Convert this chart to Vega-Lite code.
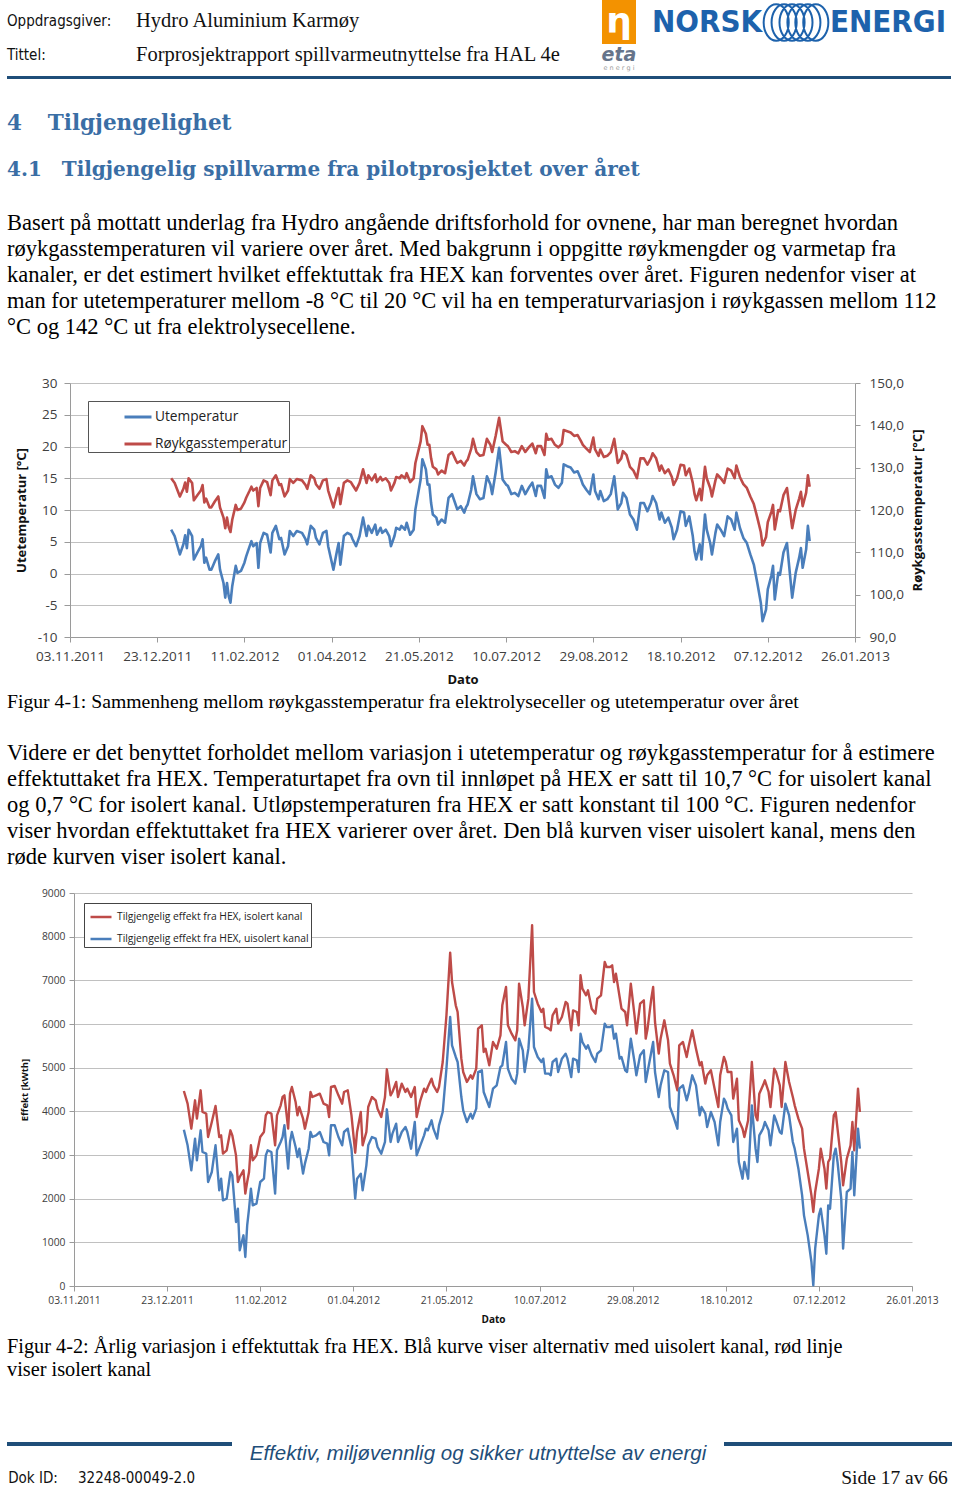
{
  "$schema": "https://vega.github.io/schema/vega-lite/v6.json",
  "padding": {"left": 7, "top": 0, "right": 0, "bottom": 0},
  "config": {
    "view": {"stroke": null},
    "font": "Open Sans",
    "axis": {"labelFont": "Open Sans", "titleFont": "Open Sans", "labelColor": "#404040", "titleColor": "#111111", "domainColor": "#9a9a9a", "tickColor": "#9a9a9a", "gridColor": "#c0c0c0"},
    "legend": {"labelFont": "Open Sans"}
  },
  "spacing": 0,
  "bounds": "flush",
  "resolve": {"scale": {"color": "independent"}, "legend": {"color": "independent"}},
  "vconcat": [
    {
      "spacing": 0,
      "bounds": "flush",
      "hconcat": [
        {
          "width": 129,
          "height": 76,
          "data": {"values": [
            {"felt": "Oppdragsgiver:", "verdi": "Hydro Aluminium Karmøy"},
            {"felt": "Tittel:", "verdi": "Forprosjektrapport spillvarmeutnyttelse fra HAL 4e"}
          ]},
          "transform": [{"fold": ["felt", "verdi"], "as": ["kolonne", "tekst"]}],
          "encoding": {
            "x": {"field": "kolonne", "type": "nominal", "axis": null, "sort": ["felt", "verdi"], "scale": {"type": "point", "padding": 0}},
            "y": {"field": "felt", "type": "nominal", "sort": null, "axis": null, "scale": {"type": "point", "padding": 0.586}},
            "text": {"field": "tekst"}
          },
          "layer": [
            {"transform": [{"filter": "datum.kolonne === 'felt'"}], "mark": {"type": "text", "align": "left", "font": "Liberation Sans Narrow, Arial Narrow, DejaVu Sans Condensed, sans-serif", "fontSize": 15, "color": "#111111"}},
            {"transform": [{"filter": "datum.kolonne === 'verdi'"}], "mark": {"type": "text", "align": "left", "font": "Liberation Serif", "fontSize": 20.5, "color": "#111111"}}
          ]
        },
        {"width": 466, "height": 10, "data": {"values": [{}]}, "mark": {"type": "rect", "opacity": 0}},
        {
          "width": 34,
          "height": 44,
          "data": {"values": [{"tegn": "η"}]},
          "title": {"text": "eta", "subtitle": "e n e r g i", "orient": "bottom", "anchor": "middle", "offset": 2, "font": "DejaVu Sans", "fontSize": 19, "fontStyle": "italic", "fontWeight": "bold", "color": "#66748a", "subtitleFont": "DejaVu Sans", "subtitleFontSize": 6.5, "subtitleColor": "#9a9a9a", "subtitlePadding": 0},
          "layer": [
            {"mark": {"type": "rect", "color": "#F39200"}},
            {"mark": {"type": "text", "color": "white", "font": "DejaVu Sans", "fontWeight": "bold", "fontSize": 36}, "encoding": {"text": {"field": "tegn"}}}
          ]
        },
        {"width": 16, "height": 10, "data": {"values": [{}]}, "mark": {"type": "rect", "opacity": 0}},
        {"width": 110, "height": 45, "data": {"values": [{"ord": "NORSK"}]}, "mark": {"type": "text", "font": "DejaVu Sans Condensed", "fontWeight": "bold", "fontSize": 31, "color": "#1d62ac"}, "encoding": {"text": {"field": "ord"}}},
        {"width": 68, "height": 45, "data": {"values": [{}]}, "mark": {"type": "point", "filled": false, "strokeWidth": 2, "color": "#1d62ac", "opacity": 1, "size": 4356, "shape": "M -0.98 0 A 0.38 0.55 0 1 0 -0.22 0 A 0.38 0.55 0 1 0 -0.98 0 M -0.74 0 A 0.38 0.55 0 1 0 0.02 0 A 0.38 0.55 0 1 0 -0.74 0 M -0.5 0 A 0.38 0.55 0 1 0 0.26 0 A 0.38 0.55 0 1 0 -0.5 0 M -0.26 0 A 0.38 0.55 0 1 0 0.5 0 A 0.38 0.55 0 1 0 -0.26 0 M -0.02 0 A 0.38 0.55 0 1 0 0.74 0 A 0.38 0.55 0 1 0 -0.02 0 M 0.22 0 A 0.38 0.55 0 1 0 0.98 0 A 0.38 0.55 0 1 0 0.22 0"}, "encoding": {}},
        {"width": 116, "height": 45, "data": {"values": [{"ord": "ENERGI"}]}, "mark": {"type": "text", "font": "DejaVu Sans Condensed", "fontWeight": "bold", "fontSize": 31, "color": "#1d62ac"}, "encoding": {"text": {"field": "ord"}}}
      ]
    },
    {"width": 10, "height": 76, "data": {"values": [{}]}, "mark": {"type": "rect", "opacity": 0}},
    {
      "width": 944,
      "height": 3,
      "data": {"values": [{}]},
      "mark": {"type": "rect", "color": "#1f4e79"},
      "title": {"text": "4\u2003\u2009Tilgjengelighet", "orient": "bottom", "anchor": "start", "frame": "group", "offset": 34, "font": "DejaVu Serif", "fontSize": 21.5, "fontWeight": "bold", "color": "#3A6EA5"}
    },
    {"width": 10, "height": 304, "data": {"values": [{}]}, "mark": {"type": "rect", "opacity": 0}},
    {
      "spacing": 0,
      "bounds": "flush",
      "resolve": {"scale": {"color": "independent"}, "legend": {"color": "independent"}},
      "hconcat": [
        {"width": 63, "height": 10, "data": {"values": [{}]}, "mark": {"type": "rect", "opacity": 0}},
        {
          "width": 785,
          "height": 254,
          "title": {
            "text": "4.1\u2003Tilgjengelig spillvarme fra pilotprosjektet over året",
            "subtitle": [
              "Basert på mottatt underlag fra Hydro angående driftsforhold for ovnene, har man beregnet hvordan",
              "røykgasstemperaturen vil variere over året. Med bakgrunn i oppgitte røykmengder og varmetap fra",
              "kanaler, er det estimert hvilket effektuttak fra HEX kan forventes over året. Figuren nedenfor viser at",
              "man for utetemperaturer mellom -8 °C til 20 °C vil ha en temperaturvariasjon i røykgassen mellom 112",
              "°C og 142 °C ut fra elektrolysecellene."
            ],
            "anchor": "start", "frame": "group", "dx": -63, "offset": 38,
            "font": "DejaVu Serif", "fontSize": 20, "fontWeight": "bold", "color": "#3A6EA5",
            "subtitleFont": "Liberation Serif", "subtitleFontSize": 22.5, "subtitleColor": "#000000", "subtitleLineHeight": 26, "subtitlePadding": 32
          },
          "data": {"values": [
            {"dato": "2011-12-31", "ute": 6.9, "royk": 127.5},
            {"dato": "2012-01-02", "ute": 5.9, "royk": 126.4},
            {"dato": "2012-01-05", "ute": 3.0, "royk": 123.2},
            {"dato": "2012-01-07", "ute": 4.6, "royk": 125.0},
            {"dato": "2012-01-08", "ute": 6.0, "royk": 126.5},
            {"dato": "2012-01-09", "ute": 4.0, "royk": 124.3},
            {"dato": "2012-01-10", "ute": 6.9, "royk": 127.5},
            {"dato": "2012-01-12", "ute": 5.9, "royk": 126.4},
            {"dato": "2012-01-13", "ute": 2.2, "royk": 122.3},
            {"dato": "2012-01-15", "ute": 3.3, "royk": 123.5},
            {"dato": "2012-01-17", "ute": 4.3, "royk": 124.6},
            {"dato": "2012-01-18", "ute": 5.4, "royk": 125.9},
            {"dato": "2012-01-19", "ute": 1.7, "royk": 121.8},
            {"dato": "2012-01-20", "ute": 2.5, "royk": 122.7},
            {"dato": "2012-01-22", "ute": 0.6, "royk": 120.6},
            {"dato": "2012-01-23", "ute": 0.6, "royk": 120.6},
            {"dato": "2012-01-25", "ute": 1.9, "royk": 122.0},
            {"dato": "2012-01-27", "ute": 3.0, "royk": 123.2},
            {"dato": "2012-01-28", "ute": 0.6, "royk": 120.6},
            {"dato": "2012-01-30", "ute": -1.5, "royk": 118.2},
            {"dato": "2012-01-31", "ute": -3.8, "royk": 115.7},
            {"dato": "2012-02-01", "ute": -1.5, "royk": 118.2},
            {"dato": "2012-02-02", "ute": -3.6, "royk": 115.9},
            {"dato": "2012-02-03", "ute": -4.6, "royk": 114.8},
            {"dato": "2012-02-04", "ute": -2.0, "royk": 117.7},
            {"dato": "2012-02-06", "ute": 1.2, "royk": 121.2},
            {"dato": "2012-02-07", "ute": 0.1, "royk": 120.0},
            {"dato": "2012-02-09", "ute": 0.4, "royk": 120.3},
            {"dato": "2012-02-11", "ute": 1.7, "royk": 121.8},
            {"dato": "2012-02-12", "ute": 2.7, "royk": 122.9},
            {"dato": "2012-02-14", "ute": 4.3, "royk": 124.6},
            {"dato": "2012-02-15", "ute": 5.1, "royk": 125.5},
            {"dato": "2012-02-16", "ute": 4.3, "royk": 124.6},
            {"dato": "2012-02-18", "ute": 4.8, "royk": 125.2},
            {"dato": "2012-02-19", "ute": 0.9, "royk": 120.9},
            {"dato": "2012-02-20", "ute": 4.8, "royk": 125.2},
            {"dato": "2012-02-22", "ute": 6.4, "royk": 127.0},
            {"dato": "2012-02-24", "ute": 6.1, "royk": 126.6},
            {"dato": "2012-02-26", "ute": 3.3, "royk": 123.5},
            {"dato": "2012-02-27", "ute": 6.4, "royk": 127.0},
            {"dato": "2012-02-29", "ute": 7.5, "royk": 128.2},
            {"dato": "2012-03-02", "ute": 5.4, "royk": 125.9},
            {"dato": "2012-03-03", "ute": 5.6, "royk": 126.1},
            {"dato": "2012-03-05", "ute": 3.0, "royk": 123.2},
            {"dato": "2012-03-07", "ute": 4.3, "royk": 124.6},
            {"dato": "2012-03-08", "ute": 6.7, "royk": 127.3},
            {"dato": "2012-03-10", "ute": 5.9, "royk": 126.4},
            {"dato": "2012-03-12", "ute": 6.7, "royk": 127.3},
            {"dato": "2012-03-15", "ute": 6.4, "royk": 127.0},
            {"dato": "2012-03-17", "ute": 5.4, "royk": 125.9},
            {"dato": "2012-03-18", "ute": 4.6, "royk": 125.0},
            {"dato": "2012-03-20", "ute": 7.5, "royk": 128.2},
            {"dato": "2012-03-22", "ute": 6.9, "royk": 127.5},
            {"dato": "2012-03-23", "ute": 5.6, "royk": 126.1},
            {"dato": "2012-03-25", "ute": 4.6, "royk": 125.0},
            {"dato": "2012-03-27", "ute": 6.4, "royk": 127.0},
            {"dato": "2012-03-29", "ute": 6.7, "royk": 127.3},
            {"dato": "2012-03-30", "ute": 4.3, "royk": 124.6},
            {"dato": "2012-04-02", "ute": 0.6, "royk": 120.6},
            {"dato": "2012-04-04", "ute": 3.5, "royk": 123.8},
            {"dato": "2012-04-05", "ute": 4.8, "royk": 125.2},
            {"dato": "2012-04-06", "ute": 1.4, "royk": 121.4},
            {"dato": "2012-04-08", "ute": 5.9, "royk": 126.4},
            {"dato": "2012-04-10", "ute": 6.4, "royk": 127.0},
            {"dato": "2012-04-12", "ute": 6.1, "royk": 126.6},
            {"dato": "2012-04-13", "ute": 5.4, "royk": 125.9},
            {"dato": "2012-04-15", "ute": 4.3, "royk": 124.6},
            {"dato": "2012-04-17", "ute": 5.9, "royk": 126.4},
            {"dato": "2012-04-19", "ute": 8.8, "royk": 129.6},
            {"dato": "2012-04-21", "ute": 5.9, "royk": 126.4},
            {"dato": "2012-04-22", "ute": 7.5, "royk": 128.2},
            {"dato": "2012-04-24", "ute": 6.4, "royk": 127.0},
            {"dato": "2012-04-26", "ute": 7.7, "royk": 128.4},
            {"dato": "2012-04-27", "ute": 6.1, "royk": 126.6},
            {"dato": "2012-04-29", "ute": 7.2, "royk": 127.8},
            {"dato": "2012-04-30", "ute": 6.4, "royk": 127.0},
            {"dato": "2012-05-02", "ute": 6.9, "royk": 127.5},
            {"dato": "2012-05-04", "ute": 5.9, "royk": 126.4},
            {"dato": "2012-05-05", "ute": 4.3, "royk": 124.6},
            {"dato": "2012-05-07", "ute": 5.9, "royk": 126.4},
            {"dato": "2012-05-08", "ute": 7.2, "royk": 127.8},
            {"dato": "2012-05-10", "ute": 6.9, "royk": 127.5},
            {"dato": "2012-05-11", "ute": 7.5, "royk": 128.2},
            {"dato": "2012-05-13", "ute": 6.9, "royk": 127.5},
            {"dato": "2012-05-14", "ute": 8.0, "royk": 128.7},
            {"dato": "2012-05-16", "ute": 6.1, "royk": 126.6},
            {"dato": "2012-05-18", "ute": 6.9, "royk": 127.5},
            {"dato": "2012-05-19", "ute": 10.1, "royk": 131.1},
            {"dato": "2012-05-22", "ute": 14.8, "royk": 136.2},
            {"dato": "2012-05-23", "ute": 18.0, "royk": 139.8},
            {"dato": "2012-05-25", "ute": 16.4, "royk": 138.0},
            {"dato": "2012-05-26", "ute": 14.0, "royk": 135.4},
            {"dato": "2012-05-27", "ute": 14.0, "royk": 135.4},
            {"dato": "2012-05-28", "ute": 11.1, "royk": 132.2},
            {"dato": "2012-05-29", "ute": 9.3, "royk": 130.2},
            {"dato": "2012-05-31", "ute": 8.8, "royk": 129.6},
            {"dato": "2012-06-01", "ute": 7.7, "royk": 128.4},
            {"dato": "2012-06-03", "ute": 8.5, "royk": 129.3},
            {"dato": "2012-06-05", "ute": 8.0, "royk": 128.7},
            {"dato": "2012-06-07", "ute": 11.9, "royk": 133.0},
            {"dato": "2012-06-09", "ute": 12.5, "royk": 133.7},
            {"dato": "2012-06-11", "ute": 10.9, "royk": 131.9},
            {"dato": "2012-06-12", "ute": 10.1, "royk": 131.1},
            {"dato": "2012-06-14", "ute": 10.6, "royk": 131.6},
            {"dato": "2012-06-16", "ute": 9.6, "royk": 130.5},
            {"dato": "2012-06-17", "ute": 10.4, "royk": 131.4},
            {"dato": "2012-06-18", "ute": 10.9, "royk": 131.9},
            {"dato": "2012-06-20", "ute": 13.2, "royk": 134.5},
            {"dato": "2012-06-21", "ute": 15.3, "royk": 136.8},
            {"dato": "2012-06-23", "ute": 12.5, "royk": 133.7},
            {"dato": "2012-06-25", "ute": 11.7, "royk": 132.8},
            {"dato": "2012-06-27", "ute": 11.9, "royk": 133.0},
            {"dato": "2012-06-29", "ute": 15.3, "royk": 136.8},
            {"dato": "2012-07-01", "ute": 14.0, "royk": 135.4},
            {"dato": "2012-07-02", "ute": 12.5, "royk": 133.7},
            {"dato": "2012-07-04", "ute": 15.9, "royk": 137.5},
            {"dato": "2012-07-06", "ute": 19.8, "royk": 141.8},
            {"dato": "2012-07-08", "ute": 14.8, "royk": 136.2},
            {"dato": "2012-07-10", "ute": 14.0, "royk": 135.4},
            {"dato": "2012-07-11", "ute": 13.8, "royk": 135.1},
            {"dato": "2012-07-13", "ute": 12.5, "royk": 133.7},
            {"dato": "2012-07-15", "ute": 12.7, "royk": 133.9},
            {"dato": "2012-07-17", "ute": 12.2, "royk": 133.4},
            {"dato": "2012-07-19", "ute": 13.8, "royk": 135.1},
            {"dato": "2012-07-21", "ute": 12.5, "royk": 133.7},
            {"dato": "2012-07-23", "ute": 13.5, "royk": 134.8},
            {"dato": "2012-07-25", "ute": 14.3, "royk": 135.7},
            {"dato": "2012-07-27", "ute": 12.2, "royk": 133.4},
            {"dato": "2012-07-28", "ute": 13.8, "royk": 135.1},
            {"dato": "2012-07-30", "ute": 13.8, "royk": 135.1},
            {"dato": "2012-08-01", "ute": 11.9, "royk": 133.0},
            {"dato": "2012-08-02", "ute": 16.4, "royk": 138.0},
            {"dato": "2012-08-03", "ute": 15.1, "royk": 136.6},
            {"dato": "2012-08-05", "ute": 15.3, "royk": 136.8},
            {"dato": "2012-08-07", "ute": 14.0, "royk": 135.4},
            {"dato": "2012-08-09", "ute": 13.5, "royk": 134.8},
            {"dato": "2012-08-11", "ute": 14.3, "royk": 135.7},
            {"dato": "2012-08-12", "ute": 17.2, "royk": 138.9},
            {"dato": "2012-08-14", "ute": 16.9, "royk": 138.6},
            {"dato": "2012-08-16", "ute": 16.7, "royk": 138.3},
            {"dato": "2012-08-18", "ute": 15.9, "royk": 137.5},
            {"dato": "2012-08-20", "ute": 16.1, "royk": 137.7},
            {"dato": "2012-08-22", "ute": 14.8, "royk": 136.2},
            {"dato": "2012-08-23", "ute": 14.0, "royk": 135.4},
            {"dato": "2012-08-25", "ute": 13.2, "royk": 134.5},
            {"dato": "2012-08-27", "ute": 12.5, "royk": 133.7},
            {"dato": "2012-08-29", "ute": 15.6, "royk": 137.1},
            {"dato": "2012-08-30", "ute": 13.0, "royk": 134.3},
            {"dato": "2012-09-01", "ute": 11.7, "royk": 132.8},
            {"dato": "2012-09-02", "ute": 13.0, "royk": 134.3},
            {"dato": "2012-09-04", "ute": 11.4, "royk": 132.5},
            {"dato": "2012-09-06", "ute": 11.7, "royk": 132.8},
            {"dato": "2012-09-08", "ute": 12.5, "royk": 133.7},
            {"dato": "2012-09-10", "ute": 15.3, "royk": 136.8},
            {"dato": "2012-09-12", "ute": 10.1, "royk": 131.1},
            {"dato": "2012-09-14", "ute": 11.1, "royk": 132.2},
            {"dato": "2012-09-15", "ute": 12.7, "royk": 133.9},
            {"dato": "2012-09-17", "ute": 11.9, "royk": 133.0},
            {"dato": "2012-09-19", "ute": 9.3, "royk": 130.2},
            {"dato": "2012-09-21", "ute": 8.5, "royk": 129.3},
            {"dato": "2012-09-23", "ute": 6.9, "royk": 127.5},
            {"dato": "2012-09-25", "ute": 11.1, "royk": 132.2},
            {"dato": "2012-09-27", "ute": 11.1, "royk": 132.2},
            {"dato": "2012-09-29", "ute": 9.8, "royk": 130.7},
            {"dato": "2012-10-01", "ute": 11.1, "royk": 132.2},
            {"dato": "2012-10-02", "ute": 12.2, "royk": 133.4},
            {"dato": "2012-10-04", "ute": 11.1, "royk": 132.2},
            {"dato": "2012-10-06", "ute": 8.5, "royk": 129.3},
            {"dato": "2012-10-07", "ute": 9.6, "royk": 130.5},
            {"dato": "2012-10-09", "ute": 8.0, "royk": 128.7},
            {"dato": "2012-10-11", "ute": 8.8, "royk": 129.6},
            {"dato": "2012-10-13", "ute": 7.2, "royk": 127.8},
            {"dato": "2012-10-14", "ute": 5.4, "royk": 125.9},
            {"dato": "2012-10-16", "ute": 6.9, "royk": 127.5},
            {"dato": "2012-10-18", "ute": 9.8, "royk": 130.7},
            {"dato": "2012-10-20", "ute": 9.6, "royk": 130.5},
            {"dato": "2012-10-21", "ute": 7.5, "royk": 128.2},
            {"dato": "2012-10-23", "ute": 9.0, "royk": 129.8},
            {"dato": "2012-10-25", "ute": 5.9, "royk": 126.4},
            {"dato": "2012-10-26", "ute": 3.5, "royk": 123.8},
            {"dato": "2012-10-27", "ute": 2.2, "royk": 122.3},
            {"dato": "2012-10-29", "ute": 4.6, "royk": 125.0},
            {"dato": "2012-10-30", "ute": 2.2, "royk": 122.3},
            {"dato": "2012-11-01", "ute": 9.3, "royk": 130.2},
            {"dato": "2012-11-02", "ute": 6.9, "royk": 127.5},
            {"dato": "2012-11-04", "ute": 4.8, "royk": 125.2},
            {"dato": "2012-11-05", "ute": 3.0, "royk": 123.2},
            {"dato": "2012-11-07", "ute": 6.4, "royk": 127.0},
            {"dato": "2012-11-08", "ute": 7.7, "royk": 128.4},
            {"dato": "2012-11-10", "ute": 6.9, "royk": 127.5},
            {"dato": "2012-11-12", "ute": 5.9, "royk": 126.4},
            {"dato": "2012-11-14", "ute": 9.0, "royk": 129.8},
            {"dato": "2012-11-16", "ute": 8.5, "royk": 129.3},
            {"dato": "2012-11-18", "ute": 6.9, "royk": 127.5},
            {"dato": "2012-11-19", "ute": 9.6, "royk": 130.5},
            {"dato": "2012-11-21", "ute": 7.2, "royk": 127.8},
            {"dato": "2012-11-23", "ute": 5.6, "royk": 126.1},
            {"dato": "2012-11-25", "ute": 4.8, "royk": 125.2},
            {"dato": "2012-11-27", "ute": 3.0, "royk": 123.2},
            {"dato": "2012-11-29", "ute": 1.4, "royk": 121.4},
            {"dato": "2012-12-01", "ute": -1.5, "royk": 118.2},
            {"dato": "2012-12-03", "ute": -4.6, "royk": 114.8},
            {"dato": "2012-12-04", "ute": -7.5, "royk": 111.6},
            {"dato": "2012-12-06", "ute": -5.7, "royk": 113.6},
            {"dato": "2012-12-07", "ute": -2.5, "royk": 117.1},
            {"dato": "2012-12-09", "ute": -0.4, "royk": 119.5},
            {"dato": "2012-12-10", "ute": 1.2, "royk": 121.2},
            {"dato": "2012-12-11", "ute": -4.1, "royk": 115.4},
            {"dato": "2012-12-13", "ute": 0.1, "royk": 120.0},
            {"dato": "2012-12-14", "ute": -0.2, "royk": 119.7},
            {"dato": "2012-12-16", "ute": 3.3, "royk": 123.5},
            {"dato": "2012-12-18", "ute": 4.8, "royk": 125.2},
            {"dato": "2012-12-19", "ute": 1.9, "royk": 122.0},
            {"dato": "2012-12-21", "ute": -3.8, "royk": 115.7},
            {"dato": "2012-12-23", "ute": 0.1, "royk": 120.0},
            {"dato": "2012-12-25", "ute": 2.5, "royk": 122.7},
            {"dato": "2012-12-26", "ute": 4.0, "royk": 124.3},
            {"dato": "2012-12-27", "ute": 0.9, "royk": 120.9},
            {"dato": "2012-12-29", "ute": 3.8, "royk": 124.1},
            {"dato": "2012-12-30", "ute": 7.5, "royk": 128.2},
            {"dato": "2012-12-31", "ute": 5.1, "royk": 125.5}
          ]},
          "encoding": {
            "x": {
              "field": "dato", "type": "temporal",
              "scale": {"type": "utc", "domain": [{"year": 2011, "month": 11, "date": 3, "utc": true}, {"year": 2013, "month": 1, "date": 26, "utc": true}]},
              "axis": {
                "title": "Dato", "format": "%d.%m.%Y", "grid": false, "labelOverlap": false, "labelFlush": false,
                "values": [
                  {"year": 2011, "month": 11, "date": 3, "utc": true},
                  {"year": 2011, "month": 12, "date": 23, "utc": true},
                  {"year": 2012, "month": 2, "date": 11, "utc": true},
                  {"year": 2012, "month": 4, "date": 1, "utc": true},
                  {"year": 2012, "month": 5, "date": 21, "utc": true},
                  {"year": 2012, "month": 7, "date": 10, "utc": true},
                  {"year": 2012, "month": 8, "date": 29, "utc": true},
                  {"year": 2012, "month": 10, "date": 18, "utc": true},
                  {"year": 2012, "month": 12, "date": 7, "utc": true},
                  {"year": 2013, "month": 1, "date": 26, "utc": true}
                ],
                "labelFontSize": 13.5, "tickSize": 5, "labelPadding": 7, "titleFontSize": 13, "titleFontWeight": "bold", "titlePadding": 11
              }
            }
          },
          "layer": [
            {
              "mark": {"type": "line", "strokeWidth": 2.6, "strokeJoin": "round"},
              "encoding": {
                "y": {"field": "ute", "type": "quantitative", "scale": {"domain": [-10, 30]},
                  "axis": {"title": "Utetemperatur [°C]", "values": [-10, -5, 0, 5, 10, 15, 20, 25, 30], "labelExpr": "replace(datum.label, '\u2212', '-')", "grid": true, "tickSize": 6, "labelPadding": 7, "labelFontSize": 13.5, "titleFontSize": 13, "titleFontWeight": "bold", "titlePadding": 9}},
                "color": {"datum": "Utemperatur", "type": "nominal",
                  "scale": {"domain": ["Utemperatur", "Røykgasstemperatur"], "range": ["#4A7EBB", "#BE4B48"]},
                  "legend": {"orient": "top-left", "offset": 18, "title": null, "symbolType": "stroke", "symbolSize": 729, "symbolStrokeWidth": 3, "labelFontSize": 13.7, "labelColor": "#222222", "labelLimit": 400, "padding": 1, "rowPadding": 5, "symbolOffset": 34, "labelOffset": 2, "strokeColor": "#555555", "fillColor": "white"}}
              }
            },
            {
              "mark": {"type": "line", "strokeWidth": 2.6, "strokeJoin": "round"},
              "encoding": {
                "y": {"field": "royk", "type": "quantitative", "scale": {"domain": [90, 150]},
                  "axis": {"orient": "right", "title": "Røykgasstemperatur [°C]", "titleAngle": 270, "values": [90, 100, 110, 120, 130, 140, 150], "labelExpr": "replace(format(datum.value, '.1f'), '.', ',')", "grid": false, "tickSize": 5, "labelPadding": 9, "labelFontSize": 13.5, "titleFontSize": 13, "titleFontWeight": "bold", "titlePadding": 21}},
                "color": {"datum": "Røykgasstemperatur", "type": "nominal"}
              }
            }
          ],
          "resolve": {"scale": {"y": "independent"}}
        }
      ]
    },
    {"width": 10, "height": 510, "data": {"values": [{}]}, "mark": {"type": "rect", "opacity": 0}},
    {
      "spacing": 0,
      "bounds": "flush",
      "resolve": {"scale": {"color": "independent"}, "legend": {"color": "independent"}},
      "hconcat": [
        {"width": 67, "height": 10, "data": {"values": [{}]}, "mark": {"type": "rect", "opacity": 0}},
        {
          "width": 838,
          "height": 393,
          "title": {
            "text": "Figur 4-1: Sammenheng mellom røykgasstemperatur fra elektrolyseceller og utetemperatur over året",
            "subtitle": [
              "Videre er det benyttet forholdet mellom variasjon i utetemperatur og røykgasstemperatur for å estimere",
              "effektuttaket fra HEX. Temperaturtapet fra ovn til innløpet på HEX er satt til 10,7 °C for uisolert kanal",
              "og 0,7 °C for isolert kanal. Utløpstemperaturen fra HEX er satt konstant til 100 °C. Figuren nedenfor",
              "viser hvordan effektuttaket fra HEX varierer over året. Den blå kurven viser uisolert kanal, mens den",
              "røde kurven viser isolert kanal."
            ],
            "anchor": "start", "frame": "group", "dx": -67, "offset": 20,
            "font": "Liberation Serif", "fontSize": 19.7, "fontWeight": "normal", "color": "#000000",
            "subtitleFont": "Liberation Serif", "subtitleFontSize": 22.5, "subtitleColor": "#000000", "subtitleLineHeight": 26, "subtitlePadding": 30
          },
          "data": {"values": [
            {"dato": "2012-01-01", "isolert": 4466, "uisolert": 3580},
            {"dato": "2012-01-03", "isolert": 4176, "uisolert": 3222},
            {"dato": "2012-01-05", "isolert": 3603, "uisolert": 2649},
            {"dato": "2012-01-07", "isolert": 4252, "uisolert": 3374},
            {"dato": "2012-01-08", "isolert": 3832, "uisolert": 2878},
            {"dato": "2012-01-10", "isolert": 4481, "uisolert": 3565},
            {"dato": "2012-01-11", "isolert": 3985, "uisolert": 3069},
            {"dato": "2012-01-13", "isolert": 3947, "uisolert": 3031},
            {"dato": "2012-01-14", "isolert": 3412, "uisolert": 2382},
            {"dato": "2012-01-16", "isolert": 3756, "uisolert": 2611},
            {"dato": "2012-01-18", "isolert": 4122, "uisolert": 3222},
            {"dato": "2012-01-20", "isolert": 3412, "uisolert": 2191},
            {"dato": "2012-01-21", "isolert": 3451, "uisolert": 2458},
            {"dato": "2012-01-22", "isolert": 3031, "uisolert": 1962},
            {"dato": "2012-01-24", "isolert": 3107, "uisolert": 2000},
            {"dato": "2012-01-26", "isolert": 3565, "uisolert": 2611},
            {"dato": "2012-01-27", "isolert": 3451, "uisolert": 2534},
            {"dato": "2012-01-29", "isolert": 2992, "uisolert": 1466},
            {"dato": "2012-01-30", "isolert": 2382, "uisolert": 1771},
            {"dato": "2012-01-31", "isolert": 2496, "uisolert": 817},
            {"dato": "2012-02-02", "isolert": 2649, "uisolert": 1160},
            {"dato": "2012-02-03", "isolert": 2115, "uisolert": 664},
            {"dato": "2012-02-04", "isolert": 2382, "uisolert": 1389},
            {"dato": "2012-02-05", "isolert": 2611, "uisolert": 1771},
            {"dato": "2012-02-06", "isolert": 3222, "uisolert": 2229},
            {"dato": "2012-02-07", "isolert": 2878, "uisolert": 1847},
            {"dato": "2012-02-09", "isolert": 2992, "uisolert": 1886},
            {"dato": "2012-02-11", "isolert": 3412, "uisolert": 2382},
            {"dato": "2012-02-13", "isolert": 3527, "uisolert": 2458},
            {"dato": "2012-02-14", "isolert": 3908, "uisolert": 2992},
            {"dato": "2012-02-15", "isolert": 3985, "uisolert": 3107},
            {"dato": "2012-02-17", "isolert": 3947, "uisolert": 3069},
            {"dato": "2012-02-19", "isolert": 3222, "uisolert": 2115},
            {"dato": "2012-02-20", "isolert": 3908, "uisolert": 3107},
            {"dato": "2012-02-22", "isolert": 4137, "uisolert": 3298},
            {"dato": "2012-02-23", "isolert": 4328, "uisolert": 3412},
            {"dato": "2012-02-24", "isolert": 4366, "uisolert": 3680},
            {"dato": "2012-02-26", "isolert": 3603, "uisolert": 2687},
            {"dato": "2012-02-27", "isolert": 4405, "uisolert": 3298},
            {"dato": "2012-02-28", "isolert": 4557, "uisolert": 3527},
            {"dato": "2012-03-01", "isolert": 4214, "uisolert": 3183},
            {"dato": "2012-03-02", "isolert": 3908, "uisolert": 2954},
            {"dato": "2012-03-03", "isolert": 4099, "uisolert": 3145},
            {"dato": "2012-03-05", "isolert": 3832, "uisolert": 2573},
            {"dato": "2012-03-06", "isolert": 3603, "uisolert": 2802},
            {"dato": "2012-03-08", "isolert": 3985, "uisolert": 3145},
            {"dato": "2012-03-09", "isolert": 4443, "uisolert": 3527},
            {"dato": "2012-03-10", "isolert": 4328, "uisolert": 3412},
            {"dato": "2012-03-12", "isolert": 4366, "uisolert": 3451},
            {"dato": "2012-03-14", "isolert": 4405, "uisolert": 3527},
            {"dato": "2012-03-16", "isolert": 4176, "uisolert": 3298},
            {"dato": "2012-03-18", "isolert": 4137, "uisolert": 3260},
            {"dato": "2012-03-19", "isolert": 3870, "uisolert": 2992},
            {"dato": "2012-03-20", "isolert": 4557, "uisolert": 3680},
            {"dato": "2012-03-22", "isolert": 4580, "uisolert": 3680},
            {"dato": "2012-03-24", "isolert": 4366, "uisolert": 3412},
            {"dato": "2012-03-26", "isolert": 4176, "uisolert": 3222},
            {"dato": "2012-03-27", "isolert": 4443, "uisolert": 3527},
            {"dato": "2012-03-29", "isolert": 4481, "uisolert": 3603},
            {"dato": "2012-03-31", "isolert": 3908, "uisolert": 3145},
            {"dato": "2012-04-02", "isolert": 3053, "uisolert": 2000},
            {"dato": "2012-04-03", "isolert": 3527, "uisolert": 2458},
            {"dato": "2012-04-05", "isolert": 3985, "uisolert": 2573},
            {"dato": "2012-04-06", "isolert": 3222, "uisolert": 2191},
            {"dato": "2012-04-08", "isolert": 3527, "uisolert": 2764},
            {"dato": "2012-04-09", "isolert": 4099, "uisolert": 3222},
            {"dato": "2012-04-11", "isolert": 4328, "uisolert": 3412},
            {"dato": "2012-04-13", "isolert": 4252, "uisolert": 3374},
            {"dato": "2012-04-14", "isolert": 4061, "uisolert": 3183},
            {"dato": "2012-04-16", "isolert": 3870, "uisolert": 3031},
            {"dato": "2012-04-18", "isolert": 4328, "uisolert": 3298},
            {"dato": "2012-04-19", "isolert": 4962, "uisolert": 4046},
            {"dato": "2012-04-21", "isolert": 4366, "uisolert": 3298},
            {"dato": "2012-04-22", "isolert": 4443, "uisolert": 3489},
            {"dato": "2012-04-24", "isolert": 4672, "uisolert": 3718},
            {"dato": "2012-04-25", "isolert": 4328, "uisolert": 3298},
            {"dato": "2012-04-27", "isolert": 4634, "uisolert": 3527},
            {"dato": "2012-04-29", "isolert": 4443, "uisolert": 3641},
            {"dato": "2012-04-30", "isolert": 4519, "uisolert": 3527},
            {"dato": "2012-05-02", "isolert": 4328, "uisolert": 3145},
            {"dato": "2012-05-04", "isolert": 4557, "uisolert": 3756},
            {"dato": "2012-05-05", "isolert": 3870, "uisolert": 2992},
            {"dato": "2012-05-07", "isolert": 4252, "uisolert": 3222},
            {"dato": "2012-05-09", "isolert": 4519, "uisolert": 3451},
            {"dato": "2012-05-10", "isolert": 4443, "uisolert": 3603},
            {"dato": "2012-05-11", "isolert": 4557, "uisolert": 3565},
            {"dato": "2012-05-13", "isolert": 4748, "uisolert": 3794},
            {"dato": "2012-05-14", "isolert": 4596, "uisolert": 3603},
            {"dato": "2012-05-16", "isolert": 4443, "uisolert": 3374},
            {"dato": "2012-05-17", "isolert": 4557, "uisolert": 3680},
            {"dato": "2012-05-19", "isolert": 5130, "uisolert": 3985},
            {"dato": "2012-05-21", "isolert": 6199, "uisolert": 4977},
            {"dato": "2012-05-23", "isolert": 7634, "uisolert": 6161},
            {"dato": "2012-05-24", "isolert": 6962, "uisolert": 5512},
            {"dato": "2012-05-26", "isolert": 6428, "uisolert": 5245},
            {"dato": "2012-05-27", "isolert": 6275, "uisolert": 5130},
            {"dato": "2012-05-29", "isolert": 5206, "uisolert": 4328},
            {"dato": "2012-05-30", "isolert": 4901, "uisolert": 4023},
            {"dato": "2012-06-01", "isolert": 4672, "uisolert": 3756},
            {"dato": "2012-06-03", "isolert": 4825, "uisolert": 3947},
            {"dato": "2012-06-04", "isolert": 4748, "uisolert": 3832},
            {"dato": "2012-06-06", "isolert": 4977, "uisolert": 4061},
            {"dato": "2012-06-07", "isolert": 5893, "uisolert": 4901},
            {"dato": "2012-06-09", "isolert": 5970, "uisolert": 4939},
            {"dato": "2012-06-10", "isolert": 5359, "uisolert": 4443},
            {"dato": "2012-06-11", "isolert": 5435, "uisolert": 4328},
            {"dato": "2012-06-13", "isolert": 5054, "uisolert": 4099},
            {"dato": "2012-06-15", "isolert": 5588, "uisolert": 4519},
            {"dato": "2012-06-17", "isolert": 5435, "uisolert": 4596},
            {"dato": "2012-06-19", "isolert": 5741, "uisolert": 5015},
            {"dato": "2012-06-20", "isolert": 6428, "uisolert": 5054},
            {"dato": "2012-06-22", "isolert": 6848, "uisolert": 5588},
            {"dato": "2012-06-23", "isolert": 5970, "uisolert": 4977},
            {"dato": "2012-06-25", "isolert": 5779, "uisolert": 4748},
            {"dato": "2012-06-27", "isolert": 5626, "uisolert": 4634},
            {"dato": "2012-06-28", "isolert": 5855, "uisolert": 4863},
            {"dato": "2012-06-29", "isolert": 6924, "uisolert": 5664},
            {"dato": "2012-07-01", "isolert": 6390, "uisolert": 5397},
            {"dato": "2012-07-02", "isolert": 5970, "uisolert": 4901},
            {"dato": "2012-07-04", "isolert": 6581, "uisolert": 5435},
            {"dato": "2012-07-06", "isolert": 8260, "uisolert": 6581},
            {"dato": "2012-07-07", "isolert": 6733, "uisolert": 5474},
            {"dato": "2012-07-09", "isolert": 6466, "uisolert": 5245},
            {"dato": "2012-07-11", "isolert": 6275, "uisolert": 5130},
            {"dato": "2012-07-12", "isolert": 6351, "uisolert": 5206},
            {"dato": "2012-07-13", "isolert": 5932, "uisolert": 4863},
            {"dato": "2012-07-15", "isolert": 5893, "uisolert": 4863},
            {"dato": "2012-07-16", "isolert": 5855, "uisolert": 4825},
            {"dato": "2012-07-17", "isolert": 6199, "uisolert": 5130},
            {"dato": "2012-07-19", "isolert": 6351, "uisolert": 5206},
            {"dato": "2012-07-20", "isolert": 6008, "uisolert": 4901},
            {"dato": "2012-07-22", "isolert": 6161, "uisolert": 5206},
            {"dato": "2012-07-24", "isolert": 6504, "uisolert": 5321},
            {"dato": "2012-07-25", "isolert": 6466, "uisolert": 5206},
            {"dato": "2012-07-27", "isolert": 5855, "uisolert": 4786},
            {"dato": "2012-07-28", "isolert": 6313, "uisolert": 5206},
            {"dato": "2012-07-30", "isolert": 6275, "uisolert": 5168},
            {"dato": "2012-07-31", "isolert": 5970, "uisolert": 4901},
            {"dato": "2012-08-01", "isolert": 7115, "uisolert": 5779},
            {"dato": "2012-08-02", "isolert": 6810, "uisolert": 5588},
            {"dato": "2012-08-04", "isolert": 6657, "uisolert": 5435},
            {"dato": "2012-08-05", "isolert": 6771, "uisolert": 5512},
            {"dato": "2012-08-07", "isolert": 6351, "uisolert": 5283},
            {"dato": "2012-08-09", "isolert": 6237, "uisolert": 5130},
            {"dato": "2012-08-10", "isolert": 6581, "uisolert": 5321},
            {"dato": "2012-08-12", "isolert": 6657, "uisolert": 5397},
            {"dato": "2012-08-14", "isolert": 7420, "uisolert": 6008},
            {"dato": "2012-08-15", "isolert": 7306, "uisolert": 5932},
            {"dato": "2012-08-17", "isolert": 7306, "uisolert": 5932},
            {"dato": "2012-08-18", "isolert": 7344, "uisolert": 5970},
            {"dato": "2012-08-19", "isolert": 6962, "uisolert": 5664},
            {"dato": "2012-08-20", "isolert": 7153, "uisolert": 5779},
            {"dato": "2012-08-22", "isolert": 6619, "uisolert": 5206},
            {"dato": "2012-08-23", "isolert": 6351, "uisolert": 5245},
            {"dato": "2012-08-25", "isolert": 6275, "uisolert": 4939},
            {"dato": "2012-08-26", "isolert": 5970, "uisolert": 4901},
            {"dato": "2012-08-28", "isolert": 6924, "uisolert": 5664},
            {"dato": "2012-08-30", "isolert": 6199, "uisolert": 5130},
            {"dato": "2012-08-31", "isolert": 5779, "uisolert": 4825},
            {"dato": "2012-09-02", "isolert": 6466, "uisolert": 5283},
            {"dato": "2012-09-04", "isolert": 6542, "uisolert": 5397},
            {"dato": "2012-09-05", "isolert": 5664, "uisolert": 4672},
            {"dato": "2012-09-06", "isolert": 5893, "uisolert": 4901},
            {"dato": "2012-09-08", "isolert": 6581, "uisolert": 5359},
            {"dato": "2012-09-09", "isolert": 6848, "uisolert": 5588},
            {"dato": "2012-09-10", "isolert": 6046, "uisolert": 4901},
            {"dato": "2012-09-12", "isolert": 5321, "uisolert": 4328},
            {"dato": "2012-09-13", "isolert": 5664, "uisolert": 4596},
            {"dato": "2012-09-15", "isolert": 6084, "uisolert": 4939},
            {"dato": "2012-09-17", "isolert": 5626, "uisolert": 4901},
            {"dato": "2012-09-18", "isolert": 5092, "uisolert": 4099},
            {"dato": "2012-09-20", "isolert": 4825, "uisolert": 3870},
            {"dato": "2012-09-22", "isolert": 4481, "uisolert": 3603},
            {"dato": "2012-09-23", "isolert": 5512, "uisolert": 4519},
            {"dato": "2012-09-25", "isolert": 5588, "uisolert": 4596},
            {"dato": "2012-09-27", "isolert": 5245, "uisolert": 4252},
            {"dato": "2012-09-28", "isolert": 5474, "uisolert": 4405},
            {"dato": "2012-09-30", "isolert": 5855, "uisolert": 4825},
            {"dato": "2012-10-02", "isolert": 5435, "uisolert": 4596},
            {"dato": "2012-10-04", "isolert": 5054, "uisolert": 3908},
            {"dato": "2012-10-05", "isolert": 5130, "uisolert": 4099},
            {"dato": "2012-10-07", "isolert": 4634, "uisolert": 3947},
            {"dato": "2012-10-08", "isolert": 4825, "uisolert": 3641},
            {"dato": "2012-10-10", "isolert": 4939, "uisolert": 3985},
            {"dato": "2012-10-12", "isolert": 4519, "uisolert": 3756},
            {"dato": "2012-10-14", "isolert": 4099, "uisolert": 3222},
            {"dato": "2012-10-15", "isolert": 4825, "uisolert": 3756},
            {"dato": "2012-10-17", "isolert": 5245, "uisolert": 4290},
            {"dato": "2012-10-18", "isolert": 5130, "uisolert": 4214},
            {"dato": "2012-10-19", "isolert": 4901, "uisolert": 4061},
            {"dato": "2012-10-21", "isolert": 4901, "uisolert": 3908},
            {"dato": "2012-10-22", "isolert": 4290, "uisolert": 3298},
            {"dato": "2012-10-24", "isolert": 4748, "uisolert": 3603},
            {"dato": "2012-10-25", "isolert": 3794, "uisolert": 2840},
            {"dato": "2012-10-27", "isolert": 3603, "uisolert": 2458},
            {"dato": "2012-10-28", "isolert": 3412, "uisolert": 2840},
            {"dato": "2012-10-30", "isolert": 3794, "uisolert": 2458},
            {"dato": "2012-11-01", "isolert": 5130, "uisolert": 4137},
            {"dato": "2012-11-03", "isolert": 3908, "uisolert": 3145},
            {"dato": "2012-11-04", "isolert": 3794, "uisolert": 2840},
            {"dato": "2012-11-05", "isolert": 4405, "uisolert": 3451},
            {"dato": "2012-11-07", "isolert": 4596, "uisolert": 3603},
            {"dato": "2012-11-08", "isolert": 4710, "uisolert": 3756},
            {"dato": "2012-11-10", "isolert": 4443, "uisolert": 3565},
            {"dato": "2012-11-11", "isolert": 4099, "uisolert": 3222},
            {"dato": "2012-11-13", "isolert": 4977, "uisolert": 3908},
            {"dato": "2012-11-14", "isolert": 4901, "uisolert": 3794},
            {"dato": "2012-11-16", "isolert": 4596, "uisolert": 3527},
            {"dato": "2012-11-17", "isolert": 4099, "uisolert": 3489},
            {"dato": "2012-11-19", "isolert": 5130, "uisolert": 4176},
            {"dato": "2012-11-21", "isolert": 4672, "uisolert": 3908},
            {"dato": "2012-11-23", "isolert": 4328, "uisolert": 3298},
            {"dato": "2012-11-24", "isolert": 4137, "uisolert": 3145},
            {"dato": "2012-11-26", "isolert": 3832, "uisolert": 2687},
            {"dato": "2012-11-28", "isolert": 3603, "uisolert": 2076},
            {"dato": "2012-11-29", "isolert": 3145, "uisolert": 1618},
            {"dato": "2012-12-01", "isolert": 2611, "uisolert": 1160},
            {"dato": "2012-12-03", "isolert": 2076, "uisolert": 550},
            {"dato": "2012-12-04", "isolert": 1695, "uisolert": 15},
            {"dato": "2012-12-05", "isolert": 2153, "uisolert": 855},
            {"dato": "2012-12-07", "isolert": 2687, "uisolert": 1618},
            {"dato": "2012-12-08", "isolert": 3145, "uisolert": 1771},
            {"dato": "2012-12-10", "isolert": 2687, "uisolert": 1160},
            {"dato": "2012-12-11", "isolert": 2229, "uisolert": 740},
            {"dato": "2012-12-12", "isolert": 2840, "uisolert": 1847},
            {"dato": "2012-12-13", "isolert": 2916, "uisolert": 1771},
            {"dato": "2012-12-15", "isolert": 3908, "uisolert": 2992},
            {"dato": "2012-12-16", "isolert": 3985, "uisolert": 3145},
            {"dato": "2012-12-17", "isolert": 3603, "uisolert": 2840},
            {"dato": "2012-12-19", "isolert": 2840, "uisolert": 2000},
            {"dato": "2012-12-20", "isolert": 2305, "uisolert": 855},
            {"dato": "2012-12-22", "isolert": 2916, "uisolert": 2153},
            {"dato": "2012-12-24", "isolert": 3222, "uisolert": 2229},
            {"dato": "2012-12-25", "isolert": 3756, "uisolert": 3069},
            {"dato": "2012-12-26", "isolert": 3107, "uisolert": 2076},
            {"dato": "2012-12-28", "isolert": 4519, "uisolert": 3603},
            {"dato": "2012-12-29", "isolert": 3985, "uisolert": 3145}
          ]},
          "encoding": {
            "x": {
              "field": "dato", "type": "temporal",
              "scale": {"type": "utc", "domain": [{"year": 2011, "month": 11, "date": 3, "utc": true}, {"year": 2013, "month": 1, "date": 26, "utc": true}]},
              "axis": {
                "title": "Dato", "format": "%d.%m.%Y", "grid": false, "labelOverlap": false, "labelFlush": false,
                "values": [
                  {"year": 2011, "month": 11, "date": 3, "utc": true},
                  {"year": 2011, "month": 12, "date": 23, "utc": true},
                  {"year": 2012, "month": 2, "date": 11, "utc": true},
                  {"year": 2012, "month": 4, "date": 1, "utc": true},
                  {"year": 2012, "month": 5, "date": 21, "utc": true},
                  {"year": 2012, "month": 7, "date": 10, "utc": true},
                  {"year": 2012, "month": 8, "date": 29, "utc": true},
                  {"year": 2012, "month": 10, "date": 18, "utc": true},
                  {"year": 2012, "month": 12, "date": 7, "utc": true},
                  {"year": 2013, "month": 1, "date": 26, "utc": true}
                ],
                "labelFontSize": 10.3, "tickSize": 5, "labelPadding": 4, "titleFontSize": 10, "titleFontWeight": "bold", "titlePadding": 9
              }
            }
          },
          "layer": [
            {
              "mark": {"type": "line", "strokeWidth": 2.4, "strokeJoin": "round"},
              "encoding": {
                "y": {"field": "isolert", "type": "quantitative", "scale": {"domain": [0, 9000]},
                  "axis": {"title": "Effekt [kWth]", "values": [0, 1000, 2000, 3000, 4000, 5000, 6000, 7000, 8000, 9000], "format": "d", "grid": true, "tickSize": 5, "labelPadding": 4, "labelFontSize": 10.3, "titleFontSize": 9.5, "titleFontWeight": "bold", "titlePadding": 12}},
                "color": {"datum": "Tilgjengelig effekt fra HEX, isolert kanal", "type": "nominal",
                  "scale": {"domain": ["Tilgjengelig effekt fra HEX, isolert kanal", "Tilgjengelig effekt fra HEX, uisolert kanal"], "range": ["#BE4B48", "#4A7EBB"]},
                  "legend": {"orient": "top-left", "offset": 10, "title": null, "symbolType": "stroke", "symbolSize": 441, "symbolStrokeWidth": 2.5, "labelFontSize": 10.3, "labelColor": "#222222", "labelLimit": 400, "padding": 2, "rowPadding": 4, "symbolOffset": 3, "labelOffset": 4, "strokeColor": "#444444", "fillColor": "white"}}
              }
            },
            {
              "mark": {"type": "line", "strokeWidth": 2.4, "strokeJoin": "round"},
              "encoding": {
                "y": {"field": "uisolert", "type": "quantitative"},
                "color": {"datum": "Tilgjengelig effekt fra HEX, uisolert kanal", "type": "nominal"}
              }
            }
          ]
        }
      ]
    },
    {"width": 10, "height": 549, "data": {"values": [{}]}, "mark": {"type": "rect", "opacity": 0}},
    {
      "spacing": 0,
      "bounds": "flush",
      "hconcat": [
        {
          "width": 225, "height": 4, "data": {"values": [{}]}, "mark": {"type": "rect", "color": "#1f4e79"},
          "title": {"text": ["Figur 4-2: Årlig variasjon i effektuttak fra HEX. Blå kurve viser alternativ med uisolert kanal, rød linje", "viser isolert kanal"], "orient": "top", "anchor": "start", "frame": "group", "offset": 62, "font": "Liberation Serif", "fontSize": 20.3, "fontWeight": "normal", "color": "#000000", "lineHeight": 23}
        },
        {"width": 492, "height": 24, "data": {"values": [{"slagord": "Effektiv, miljøvennlig og sikker utnyttelse av energi"}]}, "mark": {"type": "text", "font": "Liberation Sans", "fontStyle": "italic", "fontSize": 20.5, "color": "#1f4e79"}, "encoding": {"text": {"field": "slagord"}}},
        {"width": 228, "height": 4, "data": {"values": [{}]}, "mark": {"type": "rect", "color": "#1f4e79"}}
      ]
    },
    {"width": 10, "height": 24, "data": {"values": [{}]}, "mark": {"type": "rect", "opacity": 0}},
    {
      "spacing": 0,
      "bounds": "flush",
      "hconcat": [
        {"width": 52, "height": 24, "data": {"values": [{"t": "Dok ID:"}]}, "mark": {"type": "text", "font": "Liberation Sans Narrow, Arial Narrow, DejaVu Sans Condensed, sans-serif", "fontSize": 15, "color": "#111111"}, "encoding": {"text": {"field": "t"}}},
        {"width": 155, "height": 24, "data": {"values": [{"t": "32248-00049-2.0"}]}, "mark": {"type": "text", "font": "Liberation Sans Narrow, Arial Narrow, DejaVu Sans Condensed, sans-serif", "fontSize": 15, "color": "#111111"}, "encoding": {"text": {"field": "t"}}},
        {"width": 629, "height": 10, "data": {"values": [{}]}, "mark": {"type": "rect", "opacity": 0}},
        {"width": 103, "height": 24, "data": {"values": [{"t": "Side 17 av 66"}]}, "mark": {"type": "text", "font": "Liberation Serif", "fontSize": 19.5, "color": "#111111"}, "encoding": {"text": {"field": "t"}}}
      ]
    }
  ]
}
